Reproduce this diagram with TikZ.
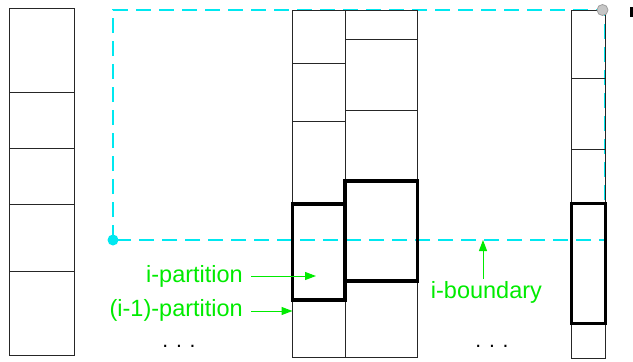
\documentclass[tikz,border=0pt]{standalone}
\usepackage{fontspec}
\setmainfont{Liberation Sans}
\usetikzlibrary{arrows.meta}
\definecolor{bcyan}{RGB}{0,232,240}
\definecolor{lgreen}{RGB}{0,235,0}
\begin{document}
\begin{tikzpicture}[x=1pt,y=-1pt,
  cell/.style={draw=black!85,line width=0.9pt},
  hot/.style={draw=black,line width=3.6pt},
  bound/.style={draw=bcyan,line width=2pt,dash pattern=on 15pt off 8pt},
  lab/.style={text=lgreen,font=\fontsize{23.5}{26}\selectfont,inner sep=0pt},
  pointer/.style={draw=lgreen,line width=1pt,-{Triangle[length=11pt,width=8pt]}},
  dots/.style={font=\fontsize{21}{24}\selectfont,inner sep=0pt},
]
\useasboundingbox (0,0) rectangle (633,362);

% i-boundary region (dashed)
\draw[bound] (113,240) -- (113,10) -- (605,10) -- (605,240) -- cycle;

% column 1
\draw[cell] (9,8) rectangle (74,355);
\foreach \y in {92,148,204,271} \draw[cell] (9,\y) -- (74,\y);

% column 2
\draw[cell] (292.5,10) rectangle (345,357.5);
\foreach \y in {63,121} \draw[cell] (292.5,\y) -- (345,\y);

% column 3
\draw[cell] (345,10) rectangle (417.5,357.5);
\foreach \y in {39,110} \draw[cell] (345,\y) -- (417.5,\y);

% column 4
\draw[cell] (571.5,10) rectangle (605.5,358);
\foreach \y in {78,149} \draw[cell] (571.5,\y) -- (605.5,\y);

% highlighted partitions
\draw[hot] (292.5,204) rectangle (345,300);
\draw[hot] (345,181) rectangle (417.5,281);
\draw[hot] (571.5,203.5) rectangle (605.5,323.5);

% boundary markers
\fill[bcyan] (113,240) circle (5.5);
\draw[fill=gray!45,draw=gray!75,line width=0.8pt] (602.5,10) circle (5.5);
\fill (629.5,7) rectangle (633,17);

% labels
\node[lab,anchor=base east] (ip) at (243,282.5) {i-partition};
\node[lab,anchor=base east] (ipm) at (243,316) {(i-1)-partition};
\node[lab,anchor=base west] (ib) at (430.7,298.3) {i-boundary};

\coordinate (ipend) at (316,276);
\coordinate (ipmend) at (292.5,311);
\coordinate (ibend) at (483,240);

\draw[pointer] (251,276) -- (ipend);
\draw[pointer] (251,311) -- (ipmend);
\draw[pointer] (ib.north -| ibend) ++(0,-2) -- (ibend);

% ellipses
\node[dots] (d1) at (179,346) {. . .};
\node[dots] (d2) at (492,346) {. . .};
\end{tikzpicture}
\end{document}
